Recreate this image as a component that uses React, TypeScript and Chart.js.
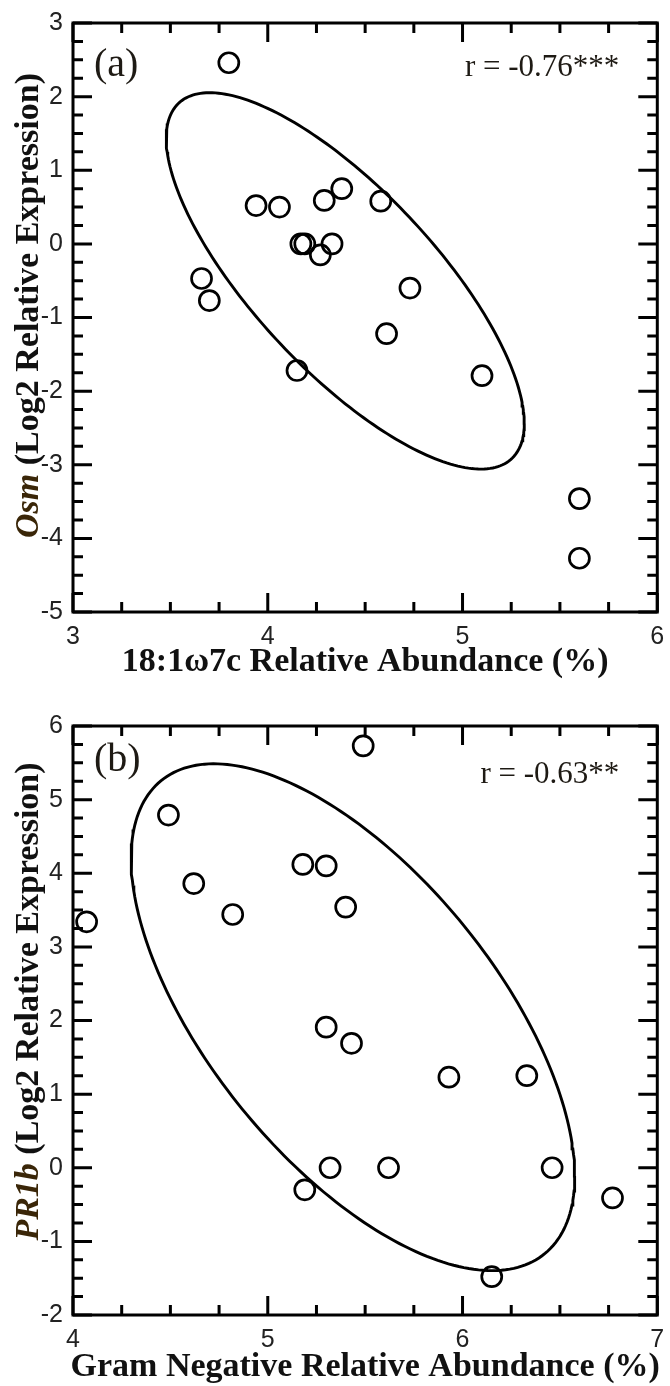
import React, { useEffect, useRef } from 'react';
import { Chart, registerables } from 'chart.js';

Chart.register(...registerables);

// ---------- data ----------
const A_X = [3.80, 3.94, 4.06, 4.29, 4.38, 4.58, 4.17, 4.19, 4.33, 4.27, 3.66, 3.70, 4.73, 4.61, 4.15, 5.10, 5.60, 5.60];
const A_Y = [2.46, 0.52, 0.50, 0.59, 0.75, 0.58, 0.00, 0.00, 0.00, -0.15, -0.47, -0.77, -0.60, -1.22, -1.72, -1.79, -3.46, -4.27];

const B_X = [5.49, 4.49, 4.62, 4.82, 5.18, 5.30, 5.40, 4.07, 5.30, 5.43, 5.93, 6.33, 5.32, 5.62, 6.46, 5.19, 6.77, 6.15];
const B_Y = [5.73, 4.79, 3.86, 3.44, 4.12, 4.10, 3.54, 3.34, 1.91, 1.69, 1.23, 1.25, 0.00, 0.00, 0.00, -0.30, -0.41, -1.48];

const A_X_TICKS = [3, 4, 5, 6];
const A_Y_TICKS = [-5, -4, -3, -2, -1, 0, 1, 2, 3];
const B_X_TICKS = [4, 5, 6, 7];
const B_Y_TICKS = [-2, -1, 0, 1, 2, 3, 4, 5, 6];

const A_X_TITLE = '18:1\u03c97c Relative Abundance (%)';
const B_X_TITLE = 'Gram Negative Relative Abundance (%)';
const A_GENE = 'Osm';
const B_GENE = 'PR1b';
const Y_TITLE_REST = ' (Log2 Relative Expression)';
const A_PANEL = '(a)';
const B_PANEL = '(b)';
const A_R = 'r = -0.76***';
const B_R = 'r = -0.63**';

// scale of the confidence ellipse (Mahalanobis radius)
const ELLIPSE_K = 1.62;

// ---------- helpers ----------
const SERIF = '"Liberation Serif", "Times New Roman", serif';
const SANS = '"Liberation Sans", Arial, sans-serif';

function confidenceEllipse(xs: number[], ys: number[], k: number, n = 241) {
  const N = xs.length;
  const mx = xs.reduce((a, b) => a + b, 0) / N;
  const my = ys.reduce((a, b) => a + b, 0) / N;
  let sxx = 0, syy = 0, sxy = 0;
  for (let i = 0; i < N; i++) {
    const dx = xs[i] - mx;
    const dy = ys[i] - my;
    sxx += dx * dx;
    syy += dy * dy;
    sxy += dx * dy;
  }
  const sx = Math.sqrt(sxx / (N - 1));
  const sy = Math.sqrt(syy / (N - 1));
  const r = sxy / Math.sqrt(sxx * syy);
  const pts: { x: number; y: number }[] = [];
  for (let i = 0; i < n; i++) {
    const t = (2 * Math.PI * i) / (n - 1);
    pts.push({
      x: mx + k * sx * Math.cos(t),
      y: my + k * sy * (r * Math.cos(t) + Math.sqrt(1 - r * r) * Math.sin(t)),
    });
  }
  return pts;
}

type PanelCfg = {
  xs: number[];
  ys: number[];
  xTicks: number[];
  yTicks: number[];
  xTitle: string;
  gene: string;
  panel: string;
  rText: string;
  height: number;
  padTop: number;
  xAxisHeight: number;
  yAxisWidth: number;
  xTitleOffset: number;
  yTitleShift: number;
  panelDy: number;
  rDy: number;
};

const PANEL_A: PanelCfg = {
  xs: A_X, ys: A_Y, xTicks: A_X_TICKS, yTicks: A_Y_TICKS,
  xTitle: A_X_TITLE, gene: A_GENE, panel: A_PANEL, rText: A_R,
  height: 690, padTop: 23, xAxisHeight: 78, yAxisWidth: 73,
  xTitleOffset: 50, yTitleShift: -12, panelDy: 42, rDy: 45,
};

const PANEL_B: PanelCfg = {
  xs: B_X, ys: B_Y, xTicks: B_X_TICKS, yTicks: B_Y_TICKS,
  xTitle: B_X_TITLE, gene: B_GENE, panel: B_PANEL, rText: B_R,
  height: 696, padTop: 36, xAxisHeight: 71, yAxisWidth: 73,
  xTitleOffset: 52, yTitleShift: -19, panelDy: 34, rDy: 49,
};

const framePlugin = {
  id: 'frame',
  afterDraw(chart: any) {
    const cfg: PanelCfg = chart.options.plugins.frame.cfg;
    const { ctx, chartArea } = chart;
    const { left, right, top, bottom } = chartArea;
    const xs = chart.scales.x;
    const ys = chart.scales.y;
    ctx.save();
    ctx.strokeStyle = '#000';
    ctx.lineWidth = 3;
    ctx.lineCap = 'butt';
    const MAJ = 19;
    const MIN = 10;
    const step = 0.25;
    ctx.beginPath();
    for (let v = xs.min; v <= xs.max + 1e-9; v += step) {
      const p = xs.getPixelForValue(v);
      const len = Math.abs(v - Math.round(v)) < 1e-6 ? MAJ : MIN;
      ctx.moveTo(p, bottom);
      ctx.lineTo(p, bottom - len);
      ctx.moveTo(p, top);
      ctx.lineTo(p, top + len);
    }
    for (let v = ys.min; v <= ys.max + 1e-9; v += step) {
      const p = ys.getPixelForValue(v);
      const len = Math.abs(v - Math.round(v)) < 1e-6 ? MAJ : MIN;
      ctx.moveTo(left, p);
      ctx.lineTo(left + len, p);
      ctx.moveTo(right, p);
      ctx.lineTo(right - len, p);
    }
    ctx.stroke();
    ctx.strokeRect(left, top, right - left, bottom - top);

    // x title
    ctx.fillStyle = '#111';
    ctx.font = `bold 34px ${SERIF}`;
    ctx.textAlign = 'center';
    ctx.textBaseline = 'middle';
    ctx.fillText(cfg.xTitle, (left + right) / 2, bottom + cfg.xTitleOffset);

    // y title (mixed italic gene name + regular)
    ctx.save();
    ctx.translate(29, (top + bottom) / 2 + cfg.yTitleShift);
    ctx.rotate(-Math.PI / 2);
    const fGene = `italic bold 34px ${SERIF}`;
    const fRest = `bold 34px ${SERIF}`;
    ctx.font = fGene;
    const w1 = ctx.measureText(cfg.gene).width;
    ctx.font = fRest;
    const w2 = ctx.measureText(Y_TITLE_REST).width;
    const start = -(w1 + w2) / 2;
    ctx.textAlign = 'left';
    ctx.font = fGene;
    ctx.fillStyle = '#3a2608';
    ctx.fillText(cfg.gene, start, 0);
    ctx.font = fRest;
    ctx.fillStyle = '#111';
    ctx.fillText(Y_TITLE_REST, start + w1, 0);
    ctx.restore();

    // panel letter
    ctx.font = `40px ${SERIF}`;
    ctx.fillStyle = '#1e1a14';
    ctx.textAlign = 'left';
    ctx.textBaseline = 'middle';
    ctx.fillText(cfg.panel, left + 21, top + cfg.panelDy);

    // correlation
    ctx.font = `31px ${SERIF}`;
    ctx.textAlign = 'right';
    ctx.fillText(cfg.rText, right - 38, top + cfg.rDy);
    ctx.restore();
  },
};

function Panel({ cfg }: { cfg: PanelCfg }) {
  const ref = useRef<HTMLCanvasElement | null>(null);
  useEffect(() => {
    if (!ref.current) return;
    const points = cfg.xs.map((x, i) => ({ x, y: cfg.ys[i] }));
    const ell = confidenceEllipse(cfg.xs, cfg.ys, ELLIPSE_K);
    const tickFont = { family: SANS, size: 25 };
    const chart = new Chart(ref.current, {
      type: 'scatter',
      data: {
        datasets: [
          {
            data: ell,
            showLine: true,
            borderColor: '#000',
            borderWidth: 2.9,
            pointRadius: 0,
            tension: 0,
            fill: false,
            clip: false,
          } as any,
          {
            data: points,
            pointRadius: 10,
            pointBorderWidth: 2.7,
            pointBorderColor: '#000',
            pointBackgroundColor: 'rgba(0,0,0,0)',
            showLine: false,
            clip: false,
          } as any,
        ],
      },
      options: {
        animation: false,
        responsive: false,
        maintainAspectRatio: false,
        events: [],
        layout: { padding: { top: cfg.padTop, right: 5, left: 0, bottom: 0 } },
        plugins: {
          legend: { display: false },
          tooltip: { enabled: false },
          title: { display: false },
          frame: { cfg },
        } as any,
        scales: {
          x: {
            type: 'linear',
            min: cfg.xTicks[0],
            max: cfg.xTicks[cfg.xTicks.length - 1],
            grid: { display: false, drawTicks: false },
            border: { display: false },
            ticks: {
              padding: 10,
              font: tickFont,
              color: '#222',
              maxRotation: 0,
              autoSkip: false,
              callback: (v: any) => String(v),
            },
            afterBuildTicks: (s: any) => {
              s.ticks = cfg.xTicks.map((v) => ({ value: v }));
            },
            afterFit: (s: any) => {
              s.height = cfg.xAxisHeight;
              s.paddingLeft = 0;
              s.paddingRight = 0;
            },
          },
          y: {
            type: 'linear',
            min: cfg.yTicks[0],
            max: cfg.yTicks[cfg.yTicks.length - 1],
            grid: { display: false, drawTicks: false },
            border: { display: false },
            ticks: {
              padding: 10,
              font: tickFont,
              color: '#222',
              autoSkip: false,
              callback: (v: any) => String(v),
            },
            afterBuildTicks: (s: any) => {
              s.ticks = cfg.yTicks.map((v) => ({ value: v }));
            },
            afterFit: (s: any) => {
              s.width = cfg.yAxisWidth;
              s.paddingTop = 0;
              s.paddingBottom = 0;
            },
          },
        },
      } as any,
      plugins: [framePlugin as any],
    });
    return () => chart.destroy();
  }, [cfg]);
  return (
    <canvas
      ref={ref}
      width={670}
      height={cfg.height}
      style={{ display: 'block', width: 670, height: cfg.height }}
    />
  );
}

export default function App() {
  if (typeof document !== 'undefined') {
    document.body.style.margin = '0';
  }
  return (
    <div style={{ width: 670, background: '#fff' }}>
      <Panel cfg={PANEL_A} />
      <Panel cfg={PANEL_B} />
    </div>
  );
}
